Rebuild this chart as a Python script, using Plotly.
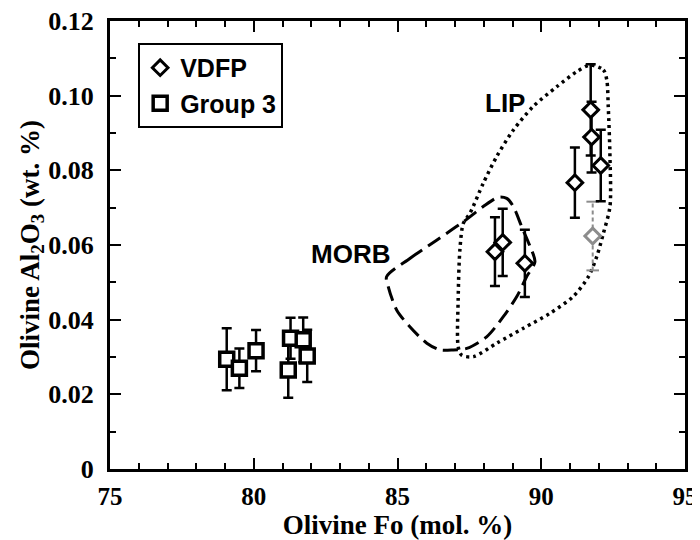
import plotly.graph_objects as go

# ---- data ----
vdfp_fo = [88.39, 88.66, 89.43, 91.17, 91.72, 91.75, 92.07]
vdfp_al = [0.0582, 0.0607, 0.0551, 0.0767, 0.0962, 0.0889, 0.0813]
vdfp_err = [0.0092, 0.0090, 0.0090, 0.0094, 0.0122, 0.0095, 0.0096]

vdfp_gray_fo = [91.79]
vdfp_gray_al = [0.0624]
vdfp_gray_err = [0.0092]

g3_fo = [79.06, 79.50, 80.08, 81.20, 81.28, 81.72, 81.86]
g3_al = [0.0294, 0.0270, 0.0317, 0.0265, 0.0350, 0.0346, 0.0303]
g3_err = [0.0083, 0.0053, 0.0055, 0.0074, 0.0055, 0.0060, 0.0070]

morb_fo = [84.62, 85.43, 86.36, 87.29, 87.98, 88.51, 88.80, 89.03, 89.32, 89.61, 89.78,
           89.49, 89.15, 88.68, 88.10, 87.41, 86.94, 86.48, 86.02, 85.43, 84.97, 84.68]
morb_al = [0.0515, 0.0564, 0.0613, 0.0662, 0.0703, 0.0728, 0.0725, 0.0703, 0.0649, 0.0596, 0.0555,
           0.0515, 0.0462, 0.0408, 0.0354, 0.0323, 0.0319, 0.0319, 0.0337, 0.0381, 0.0426, 0.0488]

lip_fo = [91.70, 92.16, 92.28, 92.33, 92.39, 92.39, 92.16, 91.93, 91.64, 91.11, 90.30, 89.38,
          88.45, 87.64, 87.23, 87.11, 87.11, 87.17, 87.29, 87.52, 87.98, 88.45, 89.03, 89.72,
          90.54, 91.23]
lip_al = [0.1082, 0.1069, 0.1042, 0.0971, 0.0837, 0.0703, 0.0631, 0.0569, 0.0515, 0.0462, 0.0417, 0.0377,
          0.0337, 0.0301, 0.0305, 0.0328, 0.0453, 0.0587, 0.0658, 0.0685, 0.0765, 0.0837, 0.0908, 0.0971,
          0.1024, 0.1064]

x_ticks = [75, 80, 85, 90, 95]
y_ticks = [0, 0.02, 0.04, 0.06, 0.08, 0.10, 0.12]
y_ticktext = ["0", "0.02", "0.04", "0.06", "0.08", "0.10", "0.12"]

field_labels = ["MORB", "LIP"]
field_label_fo = [83.38, 88.74]
field_label_al = [0.0576, 0.0980]

# ---- figure ----
serif = "Liberation Serif, Times New Roman, serif"
sans = "Liberation Sans, Arial, sans-serif"

fig = go.Figure()

fig.add_trace(go.Scatter(
    x=morb_fo + morb_fo[:1], y=morb_al + morb_al[:1], mode="lines",
    line=dict(color="black", width=3, dash="15px,7px", shape="spline", smoothing=0.8),
    showlegend=False, hoverinfo="skip"))

fig.add_trace(go.Scatter(
    x=lip_fo + lip_fo[:1], y=lip_al + lip_al[:1], mode="lines",
    line=dict(color="black", width=3.5, dash="3px,4px", shape="spline", smoothing=0.8),
    showlegend=False, hoverinfo="skip"))

# gray point with dashed error bar
for gx, gy, ge in zip(vdfp_gray_fo, vdfp_gray_al, vdfp_gray_err):
    fig.add_trace(go.Scatter(
        x=[gx, gx], y=[gy - ge, gy + ge], mode="lines+markers",
        line=dict(color="#8c8c8c", width=2, dash="4px,3px"),
        marker=dict(symbol="line-ew", size=9, line=dict(color="#8c8c8c", width=2)),
        showlegend=False, hoverinfo="skip"))
fig.add_trace(go.Scatter(
    x=vdfp_gray_fo, y=vdfp_gray_al, mode="markers",
    marker=dict(symbol="diamond", size=12, color="white", line=dict(color="#8c8c8c", width=3)),
    showlegend=False))

fig.add_trace(go.Scatter(
    x=vdfp_fo, y=vdfp_al, mode="markers", name="VDFP",
    error_y=dict(type="data", array=vdfp_err, visible=True, color="black", thickness=2.5, width=5),
    marker=dict(symbol="diamond", size=12, color="white", line=dict(color="black", width=3))))

fig.add_trace(go.Scatter(
    x=g3_fo, y=g3_al, mode="markers", name="Group 3",
    error_y=dict(type="data", array=g3_err, visible=True, color="black", thickness=2.5, width=5),
    marker=dict(symbol="square", size=14, color="white", line=dict(color="black", width=3.5))))

for t, fx, fy in zip(field_labels, field_label_fo, field_label_al):
    fig.add_annotation(x=fx, y=fy, text=t, showarrow=False,
                       font=dict(family=sans, size=26, color="black", weight="bold"))

axis_common = dict(
    showline=True, linecolor="black", linewidth=3, mirror="ticks",
    ticks="inside", ticklen=11, tickwidth=2, tickcolor="black",
    showgrid=False, zeroline=False, ticklabeloverflow="allow",
)

fig.update_xaxes(
    range=[75, 95], tickvals=x_ticks,
    tickfont=dict(family=serif, size=25, color="black", weight="bold"),
    minor=dict(dtick=1, ticks="inside", ticklen=6, tickwidth=2, tickcolor="black", showgrid=False),
    title=dict(text="Olivine Fo (mol. %)", font=dict(family=serif, size=27, color="black", weight="bold"),
               standoff=8),
    ticklabelstandoff=3,
    **axis_common)

fig.update_yaxes(
    range=[0, 0.12], tickvals=y_ticks, ticktext=y_ticktext,
    tickfont=dict(family=serif, size=26, color="black", weight="bold"),
    minor=dict(dtick=0.01, ticks="inside", ticklen=6, tickwidth=2, tickcolor="black", showgrid=False),
    title=dict(text="Olivine Al<sub>2</sub>O<sub>3</sub> (wt. %)",
               font=dict(family=serif, size=27, color="black", weight="bold"), standoff=0),
    ticklabelstandoff=8,
    **axis_common)

# page body has an 8px margin, so the figure is 692x532 to fill the 700x540 window
fig.update_layout(
    width=692, height=532,
    margin=dict(l=102, r=15, t=13, b=71, autoexpand=False),
    plot_bgcolor="white", paper_bgcolor="white",
    legend=dict(x=0.049, y=0.951, xanchor="left", yanchor="top",
                bordercolor="black", borderwidth=2, bgcolor="white",
                font=dict(family=sans, size=25, color="black", weight="bold"),
                itemsizing="trace", tracegroupgap=0),
)

fig.write_html("out.html")
